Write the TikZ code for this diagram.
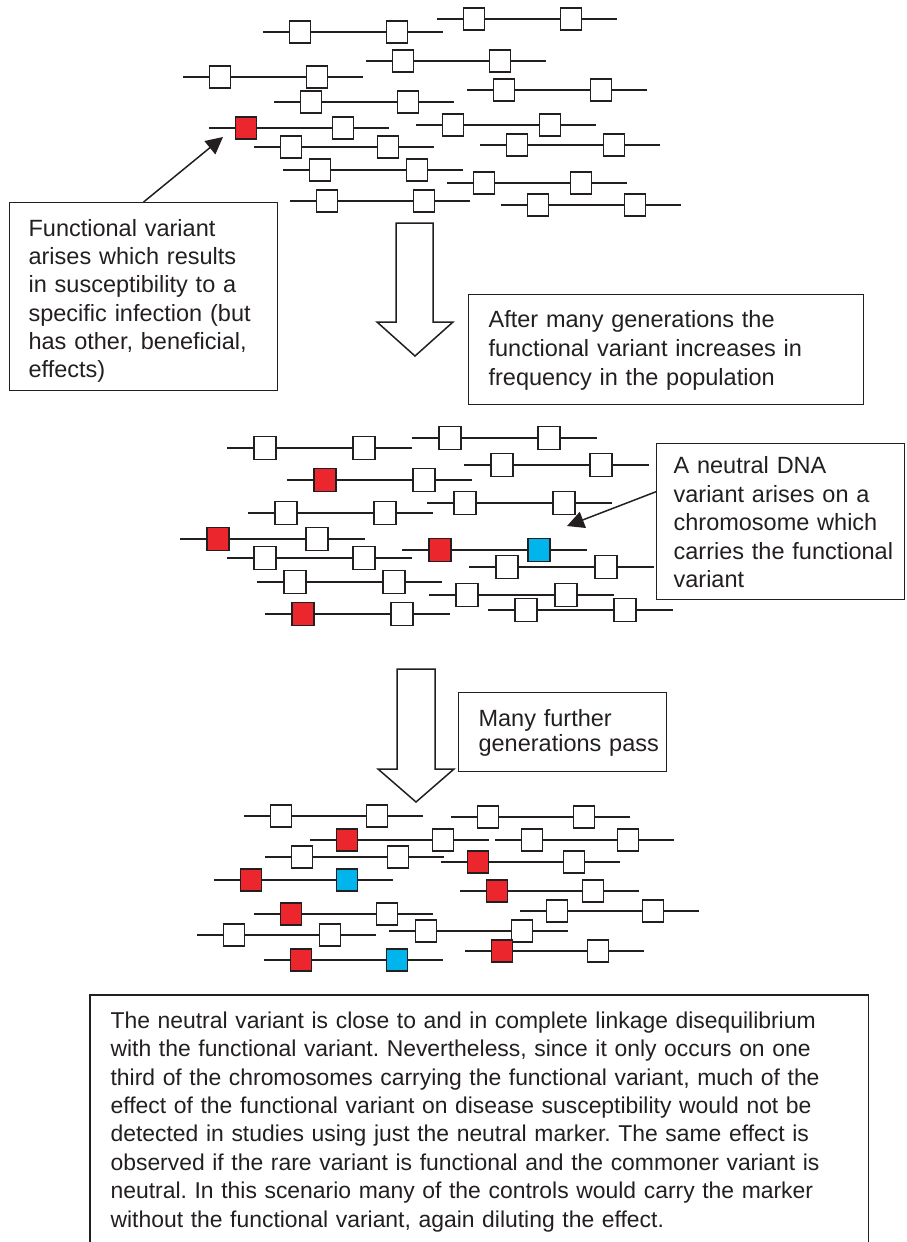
\documentclass[tikz,border=0pt]{standalone}
\usepackage{fontspec}
\setmainfont{Liberation Sans}
\usetikzlibrary{positioning,calc,arrows.meta}
\definecolor{ink}{RGB}{35,31,32}
\definecolor{mutred}{RGB}{236,38,45}
\definecolor{snpblue}{RGB}{0,180,236}
\frenchspacing

\begin{document}
\begin{tikzpicture}[
    x=1pt, y=-1pt,
    chr/.style={draw=ink, line width=1.3pt},
    mk/.style={draw=ink, line width=1.5pt, inner sep=0pt, minimum width=21pt, minimum height=22pt},
    mkbig/.style={mk, minimum width=22pt, minimum height=23pt},
    txtbox/.style={draw=ink, line width=1.2pt, anchor=north west, inner xsep=20pt, inner ysep=0pt, align=left, text=ink},
    pointer/.style={-{Triangle[length=17pt, width=17pt]}, draw=ink, line width=1.5pt},
    bigarrow/.style={draw=ink, line width=1.5pt, fill=white, line join=miter},
]
\useasboundingbox (0,0) rectangle (906,1242);

\foreach \x/\y/\p/\q [count=\k] in {263/32/white/white, 437/19/white/white, 366/61/white/white,
    183/77/white/white, 467/90/white/white, 274/102/white/white, 209/128/mutred/white,
    416/125/white/white, 254/147/white/white, 480/145/white/white, 283/170/white/white,
    447/183/white/white, 290/201/white/white, 501/205/white/white}{
  \draw[chr] (\x,\y) -- ++(180,0);
  \node[mk, fill=\p] (ta\k) at (\x+37,\y) {};
  \node[mk, fill=\q] (tb\k) at (\x+134,\y) {};
}

\foreach \x/\y/\p/\q [count=\k] in {227/448/white/white, 412/438/white/white, 464/465/white/white,
    287/480/mutred/white, 427/503/white/white, 248/513/white/white, 180/539/mutred/white,
    227/558/white/white, 402/550/mutred/snpblue, 469/567/white/white, 257/582/white/white,
    429/595/white/white, 488/610/white/white, 265/614/mutred/white}{
  \draw[chr] (\x,\y) -- ++(185,0);
  \node[mkbig, fill=\p] (ma\k) at (\x+38,\y) {};
  \node[mkbig, fill=\q] (mb\k) at (\x+137,\y) {};
}

\foreach \x/\y/\p/\q [count=\k] in {244/816/white/white, 451/817/white/white, 310/840/mutred/white,
    495/840/white/white, 265/857/white/white, 441/862/mutred/white, 214/880/mutred/snpblue,
    460/891/mutred/white, 254/914/mutred/white, 520/911/white/white, 197/935/white/white,
    389/931/white/white, 264/960/mutred/snpblue, 465/951/mutred/white}{
  \draw[chr] (\x,\y) -- ++(179,0);
  \node[mk, fill=\p] (ba\k) at (\x+37,\y) {};
  \node[mk, fill=\q] (bb\k) at (\x+133,\y) {};
}

\draw[bigarrow] (396,223) -- (433,223) -- (433,322) -- (453,322) -- (415,356) -- (377,322) -- (396,322) -- cycle;
\draw[bigarrow] (397,669) -- (435,669) -- (435,769) -- (454,769) -- (416,802) -- (378,769) -- (397,769) -- cycle;

\node[txtbox, inner xsep=19pt, text width=230pt, text height=33.7pt, text depth=154.3pt,
    font=\fontsize{23.5}{28.3}\selectfont] (boxA) at (9,202)
    {Functional variant\\arises which results\\in susceptibility to a\\specific infection (but\\has other, beneficial,\\effects)};
\node[txtbox, text width=355pt, text height=33pt, text depth=77pt,
    font=\fontsize{23.5}{29}\selectfont] (boxB) at (468,294)
    {After many generations the\\functional variant increases in\\frequency in the population};
\node[txtbox, inner xsep=17pt, text width=214pt, text height=30pt, text depth=126pt,
    font=\fontsize{23.5}{28.5}\selectfont] (boxC) at (656,443)
    {A neutral DNA\\variant arises on a\\chromosome which\\\mbox{carries the functional}\\variant};
\node[txtbox, text width=168pt, text height=33.7pt, text depth=45.3pt,
    font=\fontsize{23.5}{25}\selectfont] (boxD) at (458,692)
    {Many further\\\mbox{generations pass}};
\node[txtbox, draw=none, text width=737pt, text height=32.7pt, text depth=230pt,
    font=\fontsize{22.9}{28.4}\selectfont] (boxE) at (90,995)
    {The neutral variant is close to and in complete linkage disequilibrium\\
     with the functional variant. Nevertheless, since it only occurs on one\\
     third of the chromosomes carrying the functional variant, much of the\\
     effect of the functional variant on disease susceptibility would not be\\
     detected in studies using just the neutral marker. The same effect is\\
     observed if the rare variant is functional and the commoner variant is\\
     neutral. In this scenario many of the controls would carry the marker\\
     without the functional variant, again diluting the effect.};
\draw[ink, line width=1.2pt] (boxE.south west) -- (boxE.north west) -- (boxE.north east) -- (boxE.south east);

\coordinate (tipA) at (223,137);
\coordinate (tipC) at (567,526);
\draw[pointer] (boxA.north) -- (tipA);
\draw[pointer] ($(boxC.north west)!0.31!(boxC.south west)$) -- (tipC);
\end{tikzpicture}
\end{document}
